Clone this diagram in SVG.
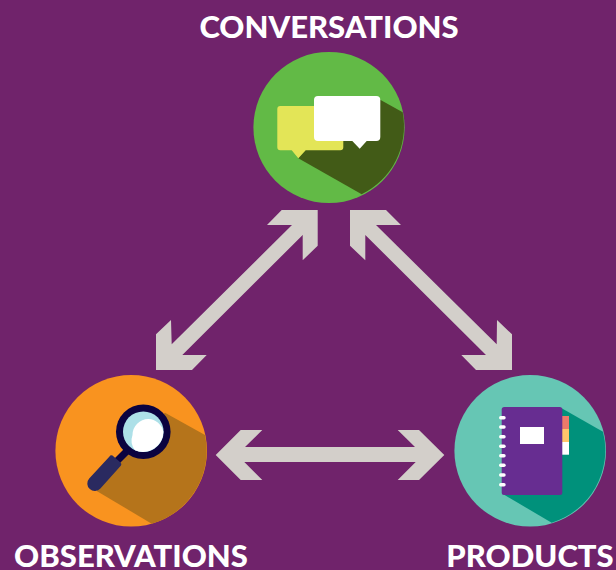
<svg xmlns="http://www.w3.org/2000/svg" width="616" height="570" viewBox="0 0 616 570">
<style>
.arrow{fill:#d3cfca}
.label{font-family:"Lato","Liberation Sans",sans-serif;font-weight:900;font-size:31px;fill:#fff}
.ring{fill:#fff}
</style>
<rect width="616" height="570" fill="#70236b"/>
<g id="connectors">
<polygon class="arrow" points="317.7,210 281.7,210 267,225 292,225 171.7,344.3 171,320 156,334.3 156,370 192,370 206.7,355 182.3,355 302.7,235 302.7,260.3 317.7,245.7"/>
<polygon class="arrow" points="350,210 386,210 401,225 376,225 496.7,344.3 497,320 512,334.3 512,370 476,370 461.3,355 486,355 365.3,235 365.3,260.3 350,245.7"/>
<polygon class="arrow" points="215.7,455 240.7,430 262.3,430 245,447 415,447 397.7,430 419,430 444.3,455 419,480 397.7,480 415.7,462 244.3,462 262.3,480 240.7,480"/>
</g>
<g id="conversations">
<circle cx="329" cy="127.5" r="75.6" fill="#62ba46"/>
<path d="M298.3,158.3L361.7,194.3A75.6,75.6 0 0 0 402.7,112.3L379.3,99.3L330,120Z" fill="#425b17"/>
<path d="M280.3,106H340.3Q343.3,106 343.3,109V147.3Q343.3,150.3 340.3,150.3H305.7L298.3,158.3L291.7,150.3H280.3Q277.3,150.3 277.3,147.3V109Q277.3,106 280.3,106Z" fill="#e3e557"/>
<path d="M318,96H376.3Q380.3,96 380.3,100V137Q380.3,141 376.3,141H366.7L359.7,148.7L352.3,141H318Q314,141 314,137V100Q314,96 318,96Z" fill="#fff"/>
<text class="label" x="329" y="37.5" text-anchor="middle">CONVERSATIONS</text>
</g>
<g id="observations">
<circle cx="131.2" cy="450.8" r="75.8" fill="#f9931f"/>
<path d="M96.7,491L151.7,523.7A75.8,75.8 0 0 0 205,435L165,412.7L130,440Z" fill="#b5741b"/>
<line x1="129" y1="449" x2="116" y2="462" stroke="#0b0340" stroke-width="7"/>
<circle cx="143.3" cy="431.7" r="27.3" fill="#0b0340"/>
<circle cx="143.3" cy="431.7" r="20.3" fill="#ade0e8"/>
<path d="M148.4,419A16,16 0 0 1 163.4,431.7A20.3,20.3 0 0 1 135,450.2A16,16 0 0 1 132.5,435A16,16 0 0 1 148.4,419Z" fill="#fff"/>
<path d="M109.5,456.5Q110.5,454.5 112.5,455.5L120.5,462.5Q122,464 121,465.5L100.4,488.5A7.5,7.5 0 0 1 89.2,478.5Z" fill="#2a2a60"/>
<text class="label" x="131" y="567" text-anchor="middle">OBSERVATIONS</text>
</g>
<g id="products">
<circle cx="530.2" cy="450.8" r="75.8" fill="#66c6b4"/>
<path d="M503.3,494.3L551.7,522.7A75.8,75.8 0 0 0 603,431.7L561.7,408.3Z" fill="#00917b"/>
<rect x="562" y="416" width="7" height="13" fill="#ec7a6a"/>
<rect x="562" y="429" width="7" height="13" fill="#ffc66b"/>
<rect x="562" y="442" width="7" height="12.7" fill="#fff"/>
<rect x="501.7" y="407" width="60.6" height="88" rx="2.5" fill="#672d91"/>
<rect x="520" y="427" width="24" height="17" fill="#fff"/>
<g class="ring">
<rect x="499" y="416" width="6.7" height="3.4" rx="1.7"/>
<rect x="499" y="425.3" width="6.7" height="3.4" rx="1.7"/>
<rect x="499" y="435" width="6.7" height="3.4" rx="1.7"/>
<rect x="499" y="444.6" width="6.7" height="3.4" rx="1.7"/>
<rect x="499" y="454" width="6.7" height="3.4" rx="1.7"/>
<rect x="499" y="463.6" width="6.7" height="3.4" rx="1.7"/>
<rect x="499" y="473.3" width="6.7" height="3.4" rx="1.7"/>
<rect x="499" y="483" width="6.7" height="3.4" rx="1.7"/>
</g>
<text class="label" x="530" y="567" text-anchor="middle">PRODUCTS</text>
</g>
</svg>
